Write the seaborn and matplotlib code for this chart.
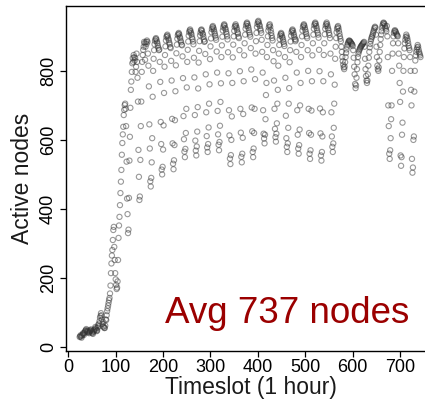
import matplotlib
matplotlib.use("Agg")
import matplotlib.pyplot as plt
import seaborn as sns
import numpy as np

# active nodes per hourly timeslot (first slot = 24)
first_slot = 24

ramp_nodes = [
    29, 31, 34, 30, 27, 33, 36, 40, 38, 35, 41, 44, 47, 49, 52, 46, 43, 48, 45, 42, 40, 44, 47, 49,
    51, 46, 42, 40, 38, 44, 49, 47, 52, 58, 55, 50, 46, 48, 56, 64, 60, 68, 75, 85, 90, 98, 92, 80,
    66, 60, 72, 58, 55, 55, 62, 80, 78, 92, 104, 112, 120, 128, 136, 142, 155, 178, 214, 242, 265, 281, 310, 339,
    348, 290, 252, 214, 196, 180, 168, 172, 190, 252, 316, 352, 377, 411, 446, 479, 513, 557, 591, 616, 638, 672, 687, 701,
    705, 690, 640, 537, 430, 385, 330, 340, 432, 540, 609, 693, 745, 769, 797, 822, 837, 826, 846, 840, 830, 837, 797, 812,
    850, 826, 780, 711, 571, 493, 426, 436, 542, 640, 711, 797, 826, 846, 861, 870, 884, 880, 832, 870, 884, 878, 888, 884,
]

week1_nodes = [
    850, 815, 755, 645, 575, 480, 465, 490, 535, 605, 725, 800, 835, 860, 877, 887, 892, 895, 891, 885, 880, 873, 867, 860,
    862, 826, 768, 652, 588, 514, 500, 522, 572, 642, 736, 812, 846, 871, 888, 898, 902, 905, 900, 894, 889, 882, 877, 869,
    866, 829, 772, 661, 590, 531, 515, 541, 585, 657, 741, 816, 851, 876, 893, 903, 907, 910, 906, 899, 895, 888, 883, 876,
    874, 842, 779, 669, 602, 566, 550, 574, 620, 690, 752, 826, 861, 885, 902, 912, 917, 920, 915, 910, 905, 897, 892, 885,
    877, 838, 781, 672, 598, 569, 555, 581, 624, 695, 749, 824, 858, 886, 903, 911, 918, 920, 916, 909, 906, 899, 891, 884,
    886, 849, 790, 680, 611, 578, 565, 588, 636, 705, 761, 834, 871, 894, 912, 921, 927, 930, 925, 920, 914, 908, 902, 896,
]

week2_nodes = [
    890, 856, 795, 684, 616, 586, 570, 594, 641, 710, 764, 840, 874, 899, 917, 926, 932, 935, 931, 924, 920, 913, 907, 900,
    891, 854, 793, 686, 613, 546, 530, 556, 600, 668, 765, 839, 876, 900, 916, 927, 931, 935, 930, 925, 919, 912, 908, 899,
    895, 860, 799, 690, 621, 551, 535, 560, 606, 675, 770, 845, 880, 905, 922, 931, 937, 940, 936, 930, 925, 918, 911, 905,
    899, 866, 804, 694, 625, 565, 550, 575, 620, 690, 776, 850, 886, 910, 927, 936, 942, 945, 940, 934, 930, 922, 917, 910,
    890, 855, 795, 686, 618, 604, 590, 615, 660, 730, 765, 840, 875, 900, 917, 926, 932, 935, 928, 918, 910, 902, 895, 888,
    860, 828, 772, 690, 632, 608, 595, 618, 648, 705, 745, 815, 850, 875, 892, 902, 907, 910, 906, 900, 896, 890, 884, 878,
]

week3_nodes = [
    872, 840, 780, 670, 605, 580, 565, 590, 635, 705, 750, 825, 860, 885, 902, 912, 917, 920, 916, 910, 904, 898, 892, 886,
    890, 855, 795, 686, 615, 575, 560, 585, 630, 700, 765, 840, 875, 900, 917, 927, 932, 935, 931, 925, 919, 913, 907, 900,
    895, 860, 800, 690, 620, 560, 545, 570, 615, 685, 770, 845, 880, 905, 922, 932, 937, 940, 936, 930, 924, 917, 911, 905,
    896, 861, 799, 691, 619, 555, 540, 565, 610, 680, 770, 846, 880, 906, 922, 931, 936, 940, 935, 929, 923, 918, 910, 904,
    895, 850, 790, 680, 610, 580, 565, 590, 635, 705, 760, 835, 870, 895, 912, 922, 927, 930, 924, 916, 908, 900, 893, 886,
    870, 855, 840, 828, 818, 810, 805, 812, 825, 840, 852, 862, 870, 876, 880, 884, 887, 888, 886, 884, 882, 880, 878, 876,
]

week4_nodes = [
    872, 860, 838, 812, 790, 762, 750, 758, 780, 805, 825, 840, 850, 856, 860, 864, 867, 870, 872, 874, 876, 878, 880, 882,
    884, 870, 835, 805, 785, 772, 765, 772, 790, 815, 838, 855, 868, 878, 886, 892, 897, 900, 905, 910, 915, 920, 925, 928,
    925, 905, 870, 840, 815, 805, 800, 810, 830, 855, 875, 892, 905, 915, 925, 932, 937, 940, 938, 935, 930, 925, 920, 915,
    930, 900, 840, 700, 640, 560, 545, 570, 605, 660, 700, 800, 850, 880, 900, 910, 915, 918, 915, 912, 908, 905, 902, 900,
    880, 850, 815, 765, 710, 555, 525, 550, 615, 650, 740, 800, 840, 865, 880, 890, 898, 905, 900, 895, 888, 880, 872, 866,
    860, 840, 800, 745, 700, 545, 505, 520, 600, 610, 740, 800, 830, 845, 855, 862, 868, 875, 870, 862, 855, 850, 845, 840,
]

nodes = ramp_nodes + week1_nodes + week2_nodes + week3_nodes + week4_nodes
slots = np.arange(first_slot, first_slot + len(nodes))

x_ticks = [0, 100, 200, 300, 400, 500, 600, 700]
y_ticks = [0, 200, 400, 600, 800]

sns.set_theme(style="ticks")
plt.rcParams["font.family"] = ["Liberation Sans", "DejaVu Sans"]

fig = plt.figure(figsize=(4.25, 3.99), dpi=100)
ax = fig.add_axes([0.1553, 0.1203, 0.8706, 0.8647])

sns.scatterplot(x=slots, y=nodes, ax=ax, marker="o", s=14,
                facecolors="none", edgecolor="#333333", linewidth=0.8, alpha=0.5)

ax.set_xlim(-4.8, 775.7)
ax.set_ylim(-11.6, 988)
ax.set_xticks(x_ticks)
ax.set_yticks(y_ticks)
for sp in ax.spines.values():
    sp.set_linewidth(1.0)
    sp.set_color("black")
ax.tick_params(axis="both", direction="out", length=4.5, width=0.9, colors="black", labelsize=13)
ax.tick_params(axis="x", pad=1.0)
ax.tick_params(axis="y", pad=2, labelrotation=90)
for lab in ax.get_yticklabels():
    lab.set_va("center")

ax.set_xlabel("Timeslot (1 hour)", fontsize=16.5, labelpad=0, color="#1a1a1a")
ax.set_ylabel("Active nodes", fontsize=16.5, labelpad=4, color="#1a1a1a")

ax.text(204, 70, "Avg 737 nodes", color="#9B0000", fontsize=26.5, ha="left", va="baseline")

fig.savefig("out.png", dpi=100)
